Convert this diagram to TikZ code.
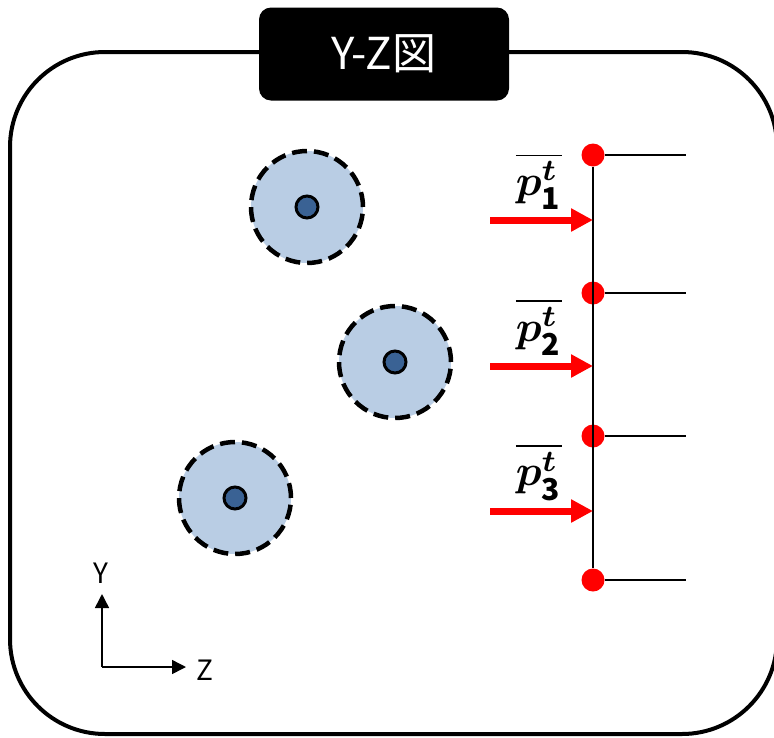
\documentclass[tikz,border=0pt]{standalone}
\usepackage{amsmath, amssymb}
\usepackage{fontspec}
\setmainfont{Noto Sans CJK JP}
\usetikzlibrary{arrows.meta}
\definecolor{zoneBlue}{RGB}{185,205,228}
\definecolor{coreBlue}{RGB}{58,98,148}

\begin{document}
\begin{tikzpicture}[x = 1pt, y = -1pt, font=\rmfamily]
	\tikzstyle{frameStyle} = [line width = 4pt, rounded corners = 95pt]
	\tikzstyle{titleStyle} = [fill = black, rounded corners = 12pt, minimum width = 250pt, minimum height = 93pt, text = white, font = \fontsize{44}{50}\selectfont]
	\tikzstyle{zoneStyle} = [shape = circle, minimum size = 112pt, fill = zoneBlue, draw, line width = 4.5pt, dash pattern = on 15pt off 7pt]
	\tikzstyle{coreStyle} = [shape = circle, minimum size = 22pt, inner sep = 0pt, fill = coreBlue, draw, line width = 3pt]
	\tikzstyle{jointStyle} = [shape = circle, minimum size = 23pt, inner sep = 0pt, fill = red]
	\tikzstyle{forceStyle} = [red, line width = 7pt, -{Triangle[length = 22pt, width = 22pt]}]
	\tikzstyle{axisStyle} = [line width = 1.5pt, -{Triangle[length = 14pt, width = 14pt]}]
	\tikzstyle{loadLabel} = [inner sep = 0pt, scale = 4.3]
	\useasboundingbox (0,0) rectangle (774,737);
	% frame and title
	\draw[frameStyle] (10,52) rectangle (777,734);
	\node[titleStyle] (title) at (384,54) {Y-Z図};
	% zones
	\node[zoneStyle] (z1) at (307,207) {};
	\node[zoneStyle] (z2) at (395,362) {};
	\node[zoneStyle] (z3) at (235,498) {};
	\node[coreStyle] (c1) at (z1) {};
	\node[coreStyle] (c2) at (z2) {};
	\node[coreStyle] (c3) at (z3) {};
	% member with joints
	\node[jointStyle] (j0) at (593,155) {};
	\node[jointStyle] (j1) at (593,293) {};
	\node[jointStyle] (j2) at (593,436) {};
	\node[jointStyle] (j3) at (593,580) {};
	\coordinate (e0) at (686,155);
	\coordinate (e1) at (686,293);
	\coordinate (e2) at (686,436);
	\coordinate (e3) at (686,580);
	\draw[line width = 2pt] (j0) -- (j3);
	\foreach \i in {0,...,3}
		\draw[line width = 2pt] (j\i) -- (e\i);
	% loads
	\coordinate (a1) at (490,220);
	\coordinate (a2) at (490,366);
	\coordinate (a3) at (490,511);
	\coordinate (h1) at (593,220);
	\coordinate (h2) at (593,366);
	\coordinate (h3) at (593,511);
	\foreach \i in {1,2,3}
		\draw[forceStyle] (a\i) -- (h\i);
	\node[loadLabel] (p1) at (539,181) {$\overline{\boldsymbol{p}_{\mathbf{1}}^{\boldsymbol{t}}}$};
	\node[loadLabel] (p2) at (539,327) {$\overline{\boldsymbol{p}_{\mathbf{2}}^{\boldsymbol{t}}}$};
	\node[loadLabel] (p3) at (539,472) {$\overline{\boldsymbol{p}_{\mathbf{3}}^{\boldsymbol{t}}}$};
	% axes
	\coordinate (o) at (102,667);
	\node[font = \fontsize{28}{30}\selectfont] (ylab) at (101,573) {Y};
	\node[font = \fontsize{28}{30}\selectfont] (zlab) at (205,670) {Z};
	\draw[axisStyle] (o) -- (102,594) coordinate (ytip);
	\draw[axisStyle] (o) -- (186,667) coordinate (ztip);
\end{tikzpicture}
\end{document}
